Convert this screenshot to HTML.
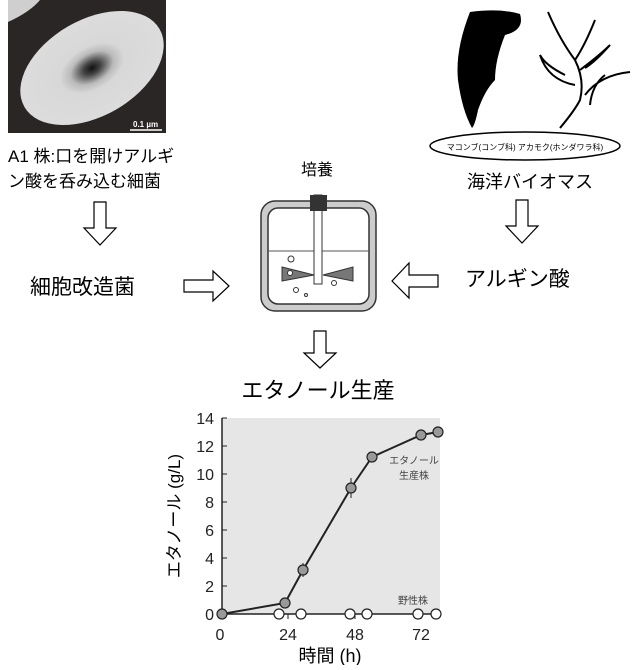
<!DOCTYPE html>
<html><head><meta charset="utf-8"><style>
body{margin:0;width:640px;height:665px;background:#fff;overflow:hidden;font-family:"Liberation Sans","Noto Sans CJK JP",sans-serif}
</style></head><body>
<svg width="640" height="665" viewBox="0 0 640 665" xmlns="http://www.w3.org/2000/svg" font-family="Liberation Sans, Noto Sans CJK JP, sans-serif">
<defs>
<radialGradient id="g"><stop offset="0" stop-color="#111"/><stop offset="0.12" stop-color="#444"/><stop offset="0.3" stop-color="#bbb"/><stop offset="0.45" stop-color="#d8d8d8"/><stop offset="1" stop-color="#dcdcdc"/></radialGradient>
</defs>
<!-- photo -->
<rect x="8" y="0" width="158" height="133" fill="#2a2626"/>
<path d="M8 0 L40 0 Q30 12 8 22Z" fill="#cfcfcf"/>
<ellipse cx="92" cy="68" rx="78" ry="48" transform="rotate(-30 92 68)" fill="url(#g)"/>
<text x="133" y="127" font-size="8" font-weight="bold" fill="#fff">0.1 µm</text>
<line x1="130" y1="130" x2="162" y2="130" stroke="#fff" stroke-width="1.5"/>
<text x="8" y="162" font-size="17">A1 株:口を開けアルギ</text>
<text x="8" y="187" font-size="17">ン酸を呑み込む細菌</text>
<!-- seaweed -->
<path d="M470 12 Q500 8 520 14 Q525 30 505 35 Q495 60 495 80 Q485 90 478 110 Q475 125 472 128 Q462 110 458 80 Q455 50 470 12Z" fill="#000"/>
<g fill="none" stroke="#000" stroke-width="2">
<path d="M548 12 Q560 40 575 60 Q585 80 580 100 Q575 110 560 128"/>
<path d="M575 60 Q585 45 595 20 M580 70 Q600 55 610 45 Q595 62 585 68 M565 75 Q545 65 540 55 Q548 80 575 85 M585 95 Q600 75 630 72 M590 105 Q592 85 605 75"/>
</g>
<ellipse cx="525" cy="146" rx="95" ry="14" fill="#fff" stroke="#000" stroke-width="1.5"/>
<text x="525" y="150" font-size="8" text-anchor="middle">マコンブ(コンブ科)  アカモク(ホンダワラ科)</text>
<text x="530" y="188" font-size="18" text-anchor="middle">海洋バイオマス</text>
<!-- arrows -->
<g fill="#fff" stroke="#000" stroke-width="1.2">
<path d="M94 202 L106 202 L106 228 L116 228 L100 245 L84 228 L94 228Z"/>
<path d="M516 200 L528 200 L528 226 L538 226 L522 243 L506 226 L516 226Z"/>
<path d="M314 331 L326 331 L326 353 L336 353 L320 368 L304 353 L314 353Z"/>
<path d="M184 280 L213 280 L213 271 L229 286 L213 301 L213 292 L184 292Z"/>
<path d="M438 275 L409 275 L409 263 L392 281 L409 298 L409 287 L438 287Z"/>
</g>
<text x="30" y="294" font-size="21">細胞改造菌</text>
<text x="465" y="286" font-size="21">アルギン酸</text>
<text x="317" y="175" font-size="16" text-anchor="middle">培養</text>
<!-- reactor -->
<rect x="261" y="201" width="115" height="110" rx="14" fill="#ccc" stroke="#333" stroke-width="1.5"/>
<rect x="268" y="208" width="101" height="96" rx="10" fill="#fff" stroke="#333" stroke-width="1.5"/>
<line x1="268" y1="251" x2="369" y2="251" stroke="#555"/>
<rect x="314" y="195" width="8" height="89" fill="#fff" stroke="#333"/>
<rect x="310" y="195" width="17" height="16" fill="#333"/>
<path d="M282 267 L314 275 L282 281Z M323 275 L353 267 L353 281Z" fill="#777" stroke="#333"/>
<g fill="#fff" stroke="#333"><circle cx="291" cy="259" r="3"/><circle cx="290" cy="273" r="2.5"/><circle cx="334" cy="283" r="2.5"/><circle cx="296" cy="290" r="2.5"/><circle cx="306" cy="295" r="1.5"/></g>
<text x="318" y="398" font-size="22" text-anchor="middle">エタノール生産</text>
<!-- chart -->
<rect x="222" y="418" width="218" height="196" fill="#e6e6e6"/>
<line x1="222" y1="418" x2="222" y2="614" stroke="#222" stroke-width="1.5"/>
<line x1="222" y1="614" x2="440" y2="614" stroke="#222" stroke-width="1.5"/>
<g stroke="#222"><line x1="222" y1="418" x2="227" y2="418"/><line x1="222" y1="446" x2="227" y2="446"/><line x1="222" y1="474" x2="227" y2="474"/><line x1="222" y1="502" x2="227" y2="502"/><line x1="222" y1="530" x2="227" y2="530"/><line x1="222" y1="558" x2="227" y2="558"/><line x1="222" y1="586" x2="227" y2="586"/><line x1="288" y1="614" x2="288" y2="619"/><line x1="355" y1="614" x2="355" y2="619"/><line x1="421" y1="614" x2="421" y2="619"/></g>
<g font-size="16" text-anchor="end" fill="#222"><text x="214" y="424">14</text><text x="214" y="452">12</text><text x="214" y="480">10</text><text x="214" y="508">8</text><text x="214" y="536">6</text><text x="214" y="564">4</text><text x="214" y="592">2</text><text x="214" y="620">0</text></g>
<g font-size="16" text-anchor="middle" fill="#222"><text x="220" y="640">0</text><text x="288" y="640">24</text><text x="355" y="640">48</text><text x="421" y="640">72</text></g>
<text x="330" y="662" font-size="18" text-anchor="middle">時間 (h)</text>
<text transform="translate(180 516) rotate(-90)" font-size="17" text-anchor="middle">エタノール (g/L)</text>
<polyline points="222,614 285,603 303,570 351,488 372,457 421,435 438,432" fill="none" stroke="#222" stroke-width="2"/>
<g stroke="#222"><line x1="303" y1="563" x2="303" y2="577"/><line x1="351" y1="478" x2="351" y2="498"/></g>
<g fill="#999" stroke="#222" stroke-width="1.2"><circle cx="222" cy="614" r="5"/><circle cx="285" cy="603" r="5"/><circle cx="303" cy="570" r="5"/><circle cx="351" cy="488" r="5"/><circle cx="372" cy="457" r="5"/><circle cx="421" cy="435" r="5"/><circle cx="438" cy="432" r="5"/></g>
<g fill="#fff" stroke="#222" stroke-width="1.2"><circle cx="279" cy="614" r="5"/><circle cx="301" cy="614" r="5"/><circle cx="350" cy="614" r="5"/><circle cx="367" cy="614" r="5"/><circle cx="418" cy="614" r="5"/><circle cx="436" cy="614" r="5"/></g>
<g font-size="10" fill="#444" text-anchor="middle"><text x="414" y="464">エタノール</text><text x="414" y="479">生産株</text><text x="413" y="604">野性株</text></g>
</svg>
</body></html>
